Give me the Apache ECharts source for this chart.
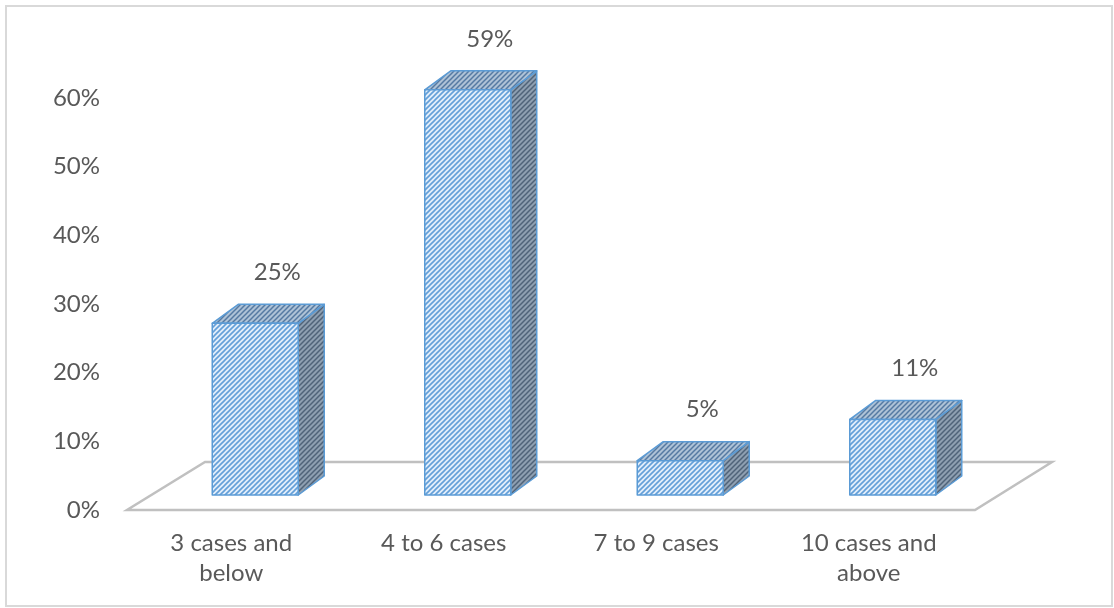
<!DOCTYPE html>
<html>
<head>
<meta charset="utf-8">
<script src="https://cdn.jsdelivr.net/npm/echarts@6/dist/echarts.min.js"></script>
<style>
  html, body { margin: 0; padding: 0; background: #fff; }
  #chart { width: 1114px; height: 608px; }
</style>
</head>
<body>
<div id="chart"></div>
<script>
// Share of respondents by number of cases handled
const categories = ['3 cases and\nbelow', '4 to 6 cases', '7 to 9 cases', '10 cases and\nabove'];
const shares = [0.25, 0.59, 0.05, 0.11];
const axisMin = 0;
const axisMax = 0.6;
const axisStep = 0.1;

const TEXT = '#595959';
const FONT = 'Lato';

// Diagonal hatch tile used as a repeating fill
function hatch(bg, fg, lw, size) {
  const c = document.createElement('canvas');
  c.width = c.height = size;
  const g = c.getContext('2d');
  g.fillStyle = bg;
  g.fillRect(0, 0, size, size);
  g.strokeStyle = fg;
  g.lineWidth = lw;
  g.beginPath();
  g.moveTo(-1, size + 1); g.lineTo(size + 1, -1);
  g.moveTo(-1, 1); g.lineTo(1, -1);
  g.moveTo(size - 1, size + 1); g.lineTo(size + 1, size - 1);
  g.stroke();
  return { image: c, repeat: 'repeat' };
}

const frontFill = hatch('#e2eefa', '#639fd8', 1.6, 5);
const topFill = hatch('#aec2d6', '#557aa2', 1.5, 5);
const sideFill = hatch('#8e9fb1', '#4f6379', 1.5, 5);
const EDGE = '#5b9bd5';

// 3D box geometry (pixels)
const FACE_LEFT = -19, FACE_RIGHT = 67;   // front face relative to category centre
const LIFT = 15;                           // front face sits behind the floor's front edge
const DX = 26, DY = -19;                   // box depth
const FLOOR_DX = 77, FLOOR_DY = -48;       // floor depth

function renderFloor(params, api) {
  const cs = params.coordSys;
  const yb = cs.y + cs.height;
  const xl = cs.x + 2, xr = cs.x + cs.width;
  return {
    type: 'polygon',
    shape: { points: [[xl, yb], [xr, yb], [xr + FLOOR_DX, yb + FLOOR_DY], [xl + FLOOR_DX + 1, yb + FLOOR_DY]] },
    style: { fill: 'none', stroke: '#c0c0c0', lineWidth: 2.5 },
    silent: true
  };
}

function renderBox(params, api) {
  const ci = api.value(0);
  const v = api.value(1);
  const base = api.coord([ci, 0]);
  const top = api.coord([ci, v]);
  const cx = base[0];
  const y0 = base[1] - LIFT;
  const y1 = top[1] - LIFT;
  const L = cx + FACE_LEFT, R = cx + FACE_RIGHT;
  const edge = { stroke: EDGE, lineWidth: 1.5, lineJoin: 'round' };
  return {
    type: 'group',
    children: [
      {
        type: 'polygon',
        shape: { points: [[R, y1], [R + DX, y1 + DY], [R + DX, y0 + DY], [R, y0]] },
        style: Object.assign({ fill: sideFill }, edge)
      },
      {
        type: 'polygon',
        shape: { points: [[L, y1], [L + DX, y1 + DY], [R + DX, y1 + DY], [R, y1]] },
        style: Object.assign({ fill: topFill }, edge)
      },
      {
        type: 'rect',
        shape: { x: L, y: y1, width: R - L, height: y0 - y1 },
        style: Object.assign({ fill: frontFill }, edge)
      },
      {
        type: 'text',
        x: (L + R) / 2 + 22,
        y: y1 - 51,
        style: {
          text: Math.round(v * 100) + '%',
          fill: TEXT,
          font: '24px ' + FONT,
          align: 'center',
          verticalAlign: 'middle'
        }
      }
    ]
  };
}

const chart = echarts.init(document.getElementById('chart'), null, { renderer: 'canvas' });
chart.setOption({
  backgroundColor: '#ffffff',
  animation: false,
  graphic: [{
    type: 'rect',
    shape: { x: 6, y: 6, width: 1106, height: 600 },
    style: { fill: 'none', stroke: '#d9d9d9', lineWidth: 2 },
    silent: true,
    z: 0
  }],
  grid: { left: 125, right: 139, top: 98, bottom: 98 },
  xAxis: {
    type: 'category',
    data: categories,
    axisLine: { show: false },
    axisTick: { show: false },
    splitLine: { show: false },
    axisLabel: {
      color: TEXT,
      fontFamily: FONT,
      fontSize: 24,
      lineHeight: 30,
      margin: 18,
      interval: 0
    }
  },
  yAxis: {
    type: 'value',
    min: axisMin,
    max: axisMax,
    interval: axisStep,
    axisLine: { show: false },
    axisTick: { show: false },
    splitLine: { show: false },
    axisLabel: {
      color: TEXT,
      fontFamily: FONT,
      fontSize: 24,
      margin: 25,
      formatter: v => Math.round(v * 100) + '%'
    }
  },
  series: [
    {
      type: 'custom',
      renderItem: renderFloor,
      data: [[0, 0]],
      silent: true,
      z: 1
    },
    {
      type: 'custom',
      renderItem: renderBox,
      encode: { x: 0, y: 1 },
      data: shares.map((v, i) => [i, v]),
      z: 2
    }
  ]
});
</script>
</body>
</html>
